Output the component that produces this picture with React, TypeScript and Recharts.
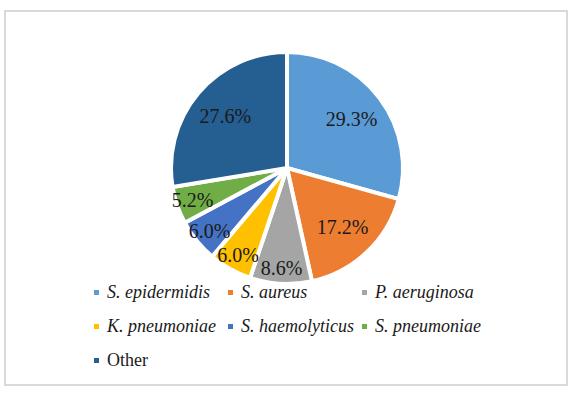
import React from 'react';
import { PieChart, Pie, Cell, Legend } from 'recharts';

const categories = ['S. epidermidis', 'S. aureus', 'P. aeruginosa', 'K. pneumoniae', 'S. haemolyticus', 'S. pneumoniae', 'Other'];
const values = [29.3, 17.2, 8.6, 6.0, 6.0, 5.2, 27.6];
const italicFlags = [true, true, true, true, true, true, false];
const colors = ['#5B9BD5', '#ED7D31', '#A5A5A5', '#FFC000', '#4472C4', '#70AD47', '#255E91'];

const data = categories.map((name, i) => ({ name, value: values[i] }));

const FONT = '"Liberation Serif", "Times New Roman", serif';
const RAD = Math.PI / 180;

const renderLabel = (props: any) => {
  const { cx, cy, midAngle, outerRadius, value } = props;
  const f = value >= 10 ? 0.71 : 0.875;
  const r = (outerRadius - 2) * f;
  const x = cx + r * Math.cos(-midAngle * RAD);
  const y = cy + r * Math.sin(-midAngle * RAD);
  return (
    <text x={x} y={y} textAnchor="middle" dominantBaseline="central" fill="#1a1a1a" fontFamily={FONT} fontSize={20}>
      {value.toFixed(1)}%
    </text>
  );
};

const renderLegend = () => (
  <div style={{ display: 'flex', flexWrap: 'wrap', width: 410, fontFamily: FONT, fontSize: 18, color: '#1a1a1a' }}>
    {categories.map((c, i) => (
      <div key={c} style={{ width: 134, height: 34, display: 'flex', alignItems: 'center' }}>
        <span style={{ width: 5, height: 5, background: colors[i], display: 'inline-block', marginRight: 8, flexShrink: 0 }} />
        <span style={{ fontStyle: italicFlags[i] ? 'italic' : 'normal', whiteSpace: 'nowrap' }}>{c}</span>
      </div>
    ))}
  </div>
);

export default function App() {
  return (
    <div style={{ position: 'absolute', left: 4, top: 10, width: 560, height: 372, border: '2px solid #d9d9d9', background: '#fff' }}>
      <PieChart width={560} height={372} margin={{ top: 0, right: 0, bottom: 0, left: 0 }}>
        <Pie
          data={data}
          dataKey="value"
          nameKey="name"
          cx={281}
          cy={156}
          outerRadius={116}
          startAngle={90}
          endAngle={-270}
          stroke="#ffffff"
          strokeWidth={4}
          label={renderLabel}
          labelLine={false}
          isAnimationActive={false}
        >
          {data.map((d, i) => (
            <Cell key={d.name} fill={colors[i]} />
          ))}
        </Pie>
        <Legend content={renderLegend} wrapperStyle={{ left: 88, top: 263, bottom: 'auto', width: 410 }} />
      </PieChart>
    </div>
  );
}
